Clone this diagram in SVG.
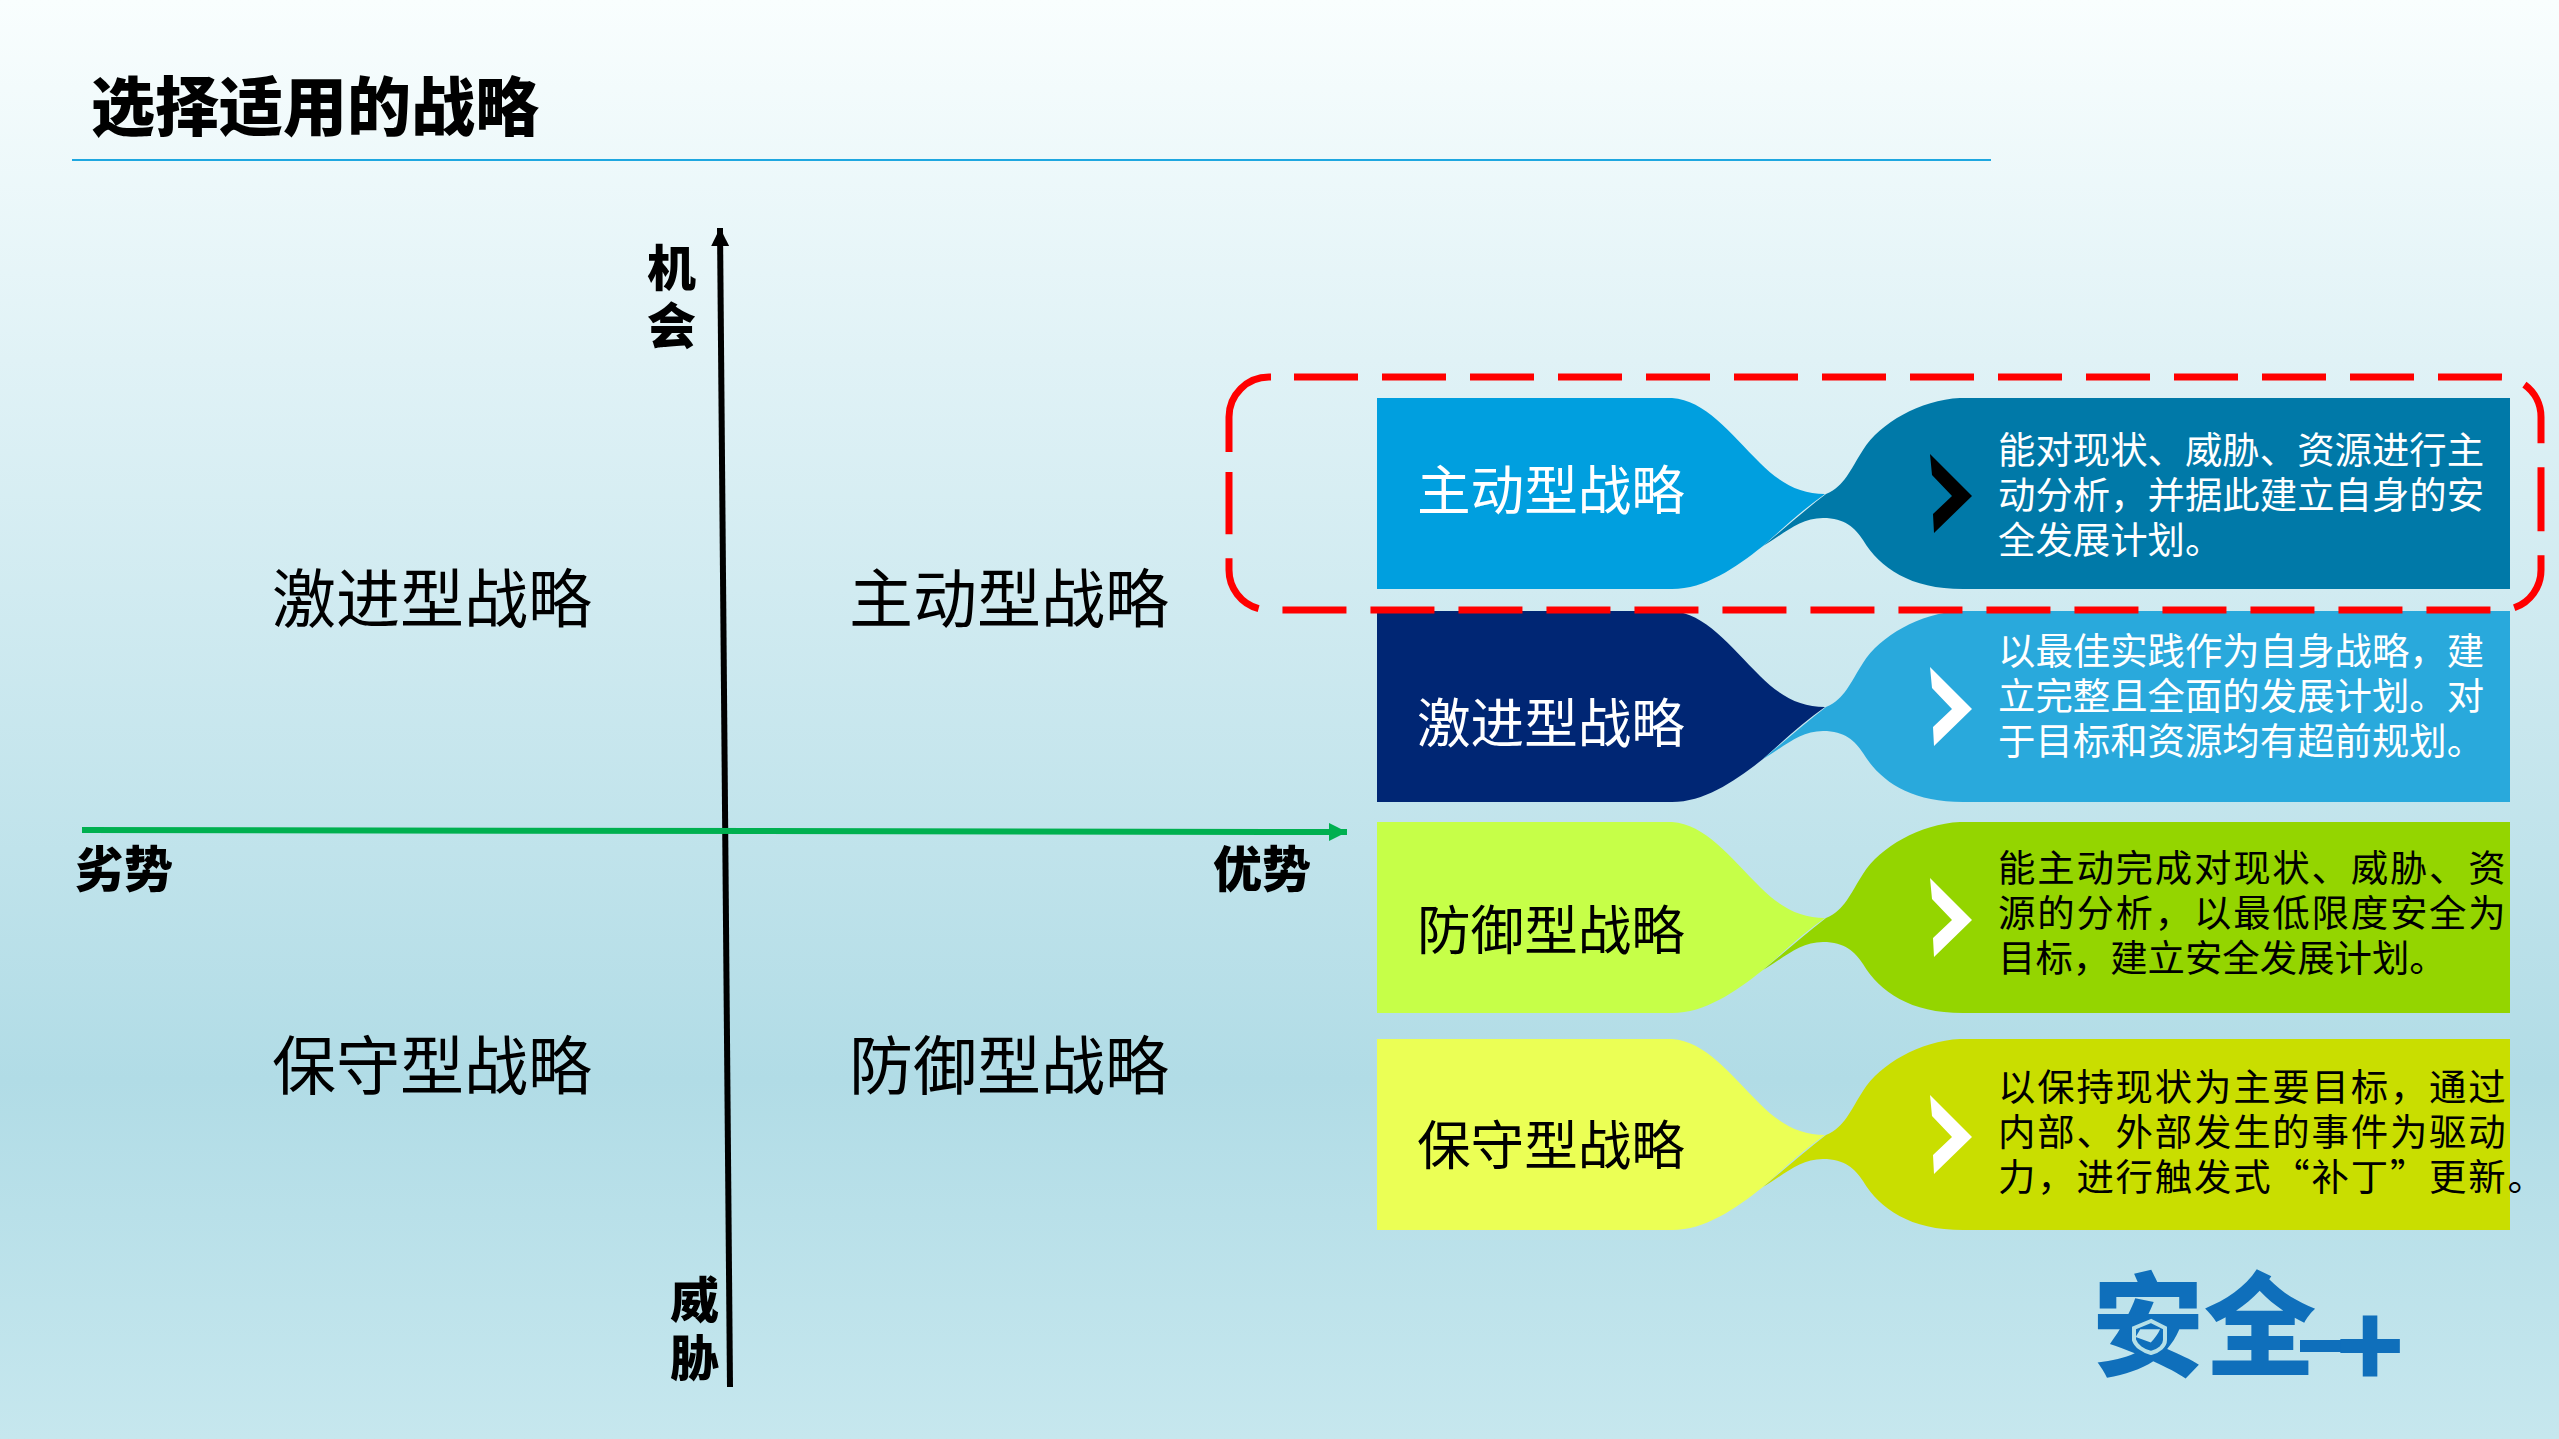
<svg xmlns="http://www.w3.org/2000/svg" width="2559" height="1439" viewBox="0 0 2559 1439">
<style>
text{font-family:"Noto Sans CJK SC","Noto Sans",sans-serif}
.t{font-size:37.4px}
.u{letter-spacing:1.8px}
.n{font-size:53.6px}
.b{font-size:64px}
.a{font-size:49px;font-weight:900}
.w{fill:#fff}
.k{fill:#000}
.dash{fill:none;stroke:#f00;stroke-width:7}
</style>
<defs>
<linearGradient id="bg" x1="0" y1="0" x2="0" y2="1">
<stop offset="0" stop-color="#f9fefe"/>
<stop offset="0.25" stop-color="#e0f2f6"/>
<stop offset="0.75" stop-color="#b1dce6"/>
<stop offset="1" stop-color="#c6e7ee"/>
</linearGradient>
<marker id="hk" markerUnits="userSpaceOnUse" markerWidth="18" markerHeight="20" refX="18" refY="9" orient="auto"><path d="M0,0L18,9L0,18Z" fill="#000"/></marker>
<marker id="hg" markerUnits="userSpaceOnUse" markerWidth="18" markerHeight="20" refX="18" refY="9" orient="auto"><path d="M0,0L18,9L0,18Z" fill="#00b050"/></marker>
<path id="L" d="M1377,0H1672C1705,2 1730,35 1760,65C1780,85 1800,96 1825,96C1805,110 1785,128 1763,148C1735,170 1705,191 1672,191H1377Z"/>
<path id="R" d="M2510,0H1960C1920,2 1880,25 1863,52C1850,72 1845,88 1826,96C1805,112 1785,130 1763,148C1785,135 1800,120 1823,120C1845,120 1855,130 1863,142C1880,170 1910,191 1963,191H2510Z"/>
<path id="C" d="M1930,56L1972,98L1934,135L1933,116L1952,98L1932,77Z"/>
</defs>
<rect width="2559" height="1439" fill="url(#bg)"/>
<text x="91" y="130" class="b" style="font-weight:900" id="title">选择适用的战略</text>
<rect x="72" y="159" width="1919" height="2" fill="#1ea7e0"/>
<g id="connectors" fill="none">
<path d="M730,1387L720,228" stroke="#000" stroke-width="6" marker-end="url(#hk)"/>
<path d="M82,830L1347,832" stroke="#00b050" stroke-width="6" marker-end="url(#hg)"/>
</g>
<g id="axis-labels">
<text x="647" y="286" class="a">机</text>
<text x="647" y="344" class="a">会</text>
<text x="75" y="887" class="a">劣势</text>
<text x="1213" y="887" class="a">优势</text>
<text x="670" y="1318" class="a">威</text>
<text x="670" y="1376" class="a">胁</text>
</g>
<g id="quadrants">
<text x="272" y="622" class="b">激进型战略</text>
<text x="849" y="622" class="b">主动型战略</text>
<text x="272" y="1089" class="b">保守型战略</text>
<text x="849" y="1089" class="b">防御型战略</text>
</g>
<g id="row1" transform="translate(0,398)">
<use href="#L" fill="#009fdf"/><use href="#R" fill="#0079a8"/><use href="#C" fill="#000"/>
<text x="1417" y="112" class="n w">主动型战略</text>
<text class="t w"><tspan x="1998" y="66">能对现状、威胁、资源进行主</tspan><tspan x="1998" y="111">动分析，并据此建立自身的安</tspan><tspan x="1998" y="156">全发展计划。</tspan></text>
</g>
<g id="row2" transform="translate(0,611)">
<use href="#L" fill="#002674"/><use href="#R" fill="#29a9dc"/><use href="#C" fill="#fff"/>
<text x="1417" y="132" class="n w">激进型战略</text>
<text class="t w"><tspan x="1998" y="54">以最佳实践作为自身战略，建</tspan><tspan x="1998" y="99">立完整且全面的发展计划。对</tspan><tspan x="1998" y="144">于目标和资源均有超前规划。</tspan></text>
</g>
<g id="row3" transform="translate(0,822)">
<use href="#L" fill="#c6ff48"/><use href="#R" fill="#94d500"/><use href="#C" fill="#fff"/>
<text x="1417" y="128" class="n k">防御型战略</text>
<text class="t k"><tspan class="u" x="1998" y="60">能主动完成对现状、威胁、资</tspan><tspan class="u" x="1998" y="105">源的分析，以最低限度安全为</tspan><tspan x="1998" y="150">目标，建立安全发展计划。</tspan></text>
</g>
<g id="row4" transform="translate(0,1039)">
<use href="#L" fill="#ebff55"/><use href="#R" fill="#c9de00"/><use href="#C" fill="#fff"/>
<text x="1417" y="126" class="n k">保守型战略</text>
<text class="t k u"><tspan x="1998" y="62">以保持现状为主要目标，通过</tspan><tspan x="1998" y="107">内部、外部发生的事件为驱动</tspan><tspan x="1998" y="152">力，进行触发式“补丁”更新。</tspan></text>
</g>
<g id="highlight">
<path class="dash" d="M1294,377H2501A40,40 0 0 1 2541,417V570A40,40 0 0 1 2501,610H1269A40,40 0 0 1 1229,570V472" stroke-dasharray="64 24"/>
<path class="dash" d="M1229,452V417A40,40 0 0 1 1269,377H1271"/>
</g>
<g id="logo">
<rect x="2300" y="1340" width="45" height="12" fill="#0f6fbb"/>
<text x="2092" y="1367" font-size="112" font-weight="900" fill="#0f6fbb">安全</text>
<text x="2336" y="1388" font-size="112" font-weight="900" fill="#0f6fbb">+</text>
<path d="M2151,1321L2134,1328V1340C2136,1346 2143,1351 2151,1353C2159,1351 2165,1346 2165,1340V1328Z" fill="none" stroke="#b5e0e8" stroke-width="4"/>
</g>
</svg>
